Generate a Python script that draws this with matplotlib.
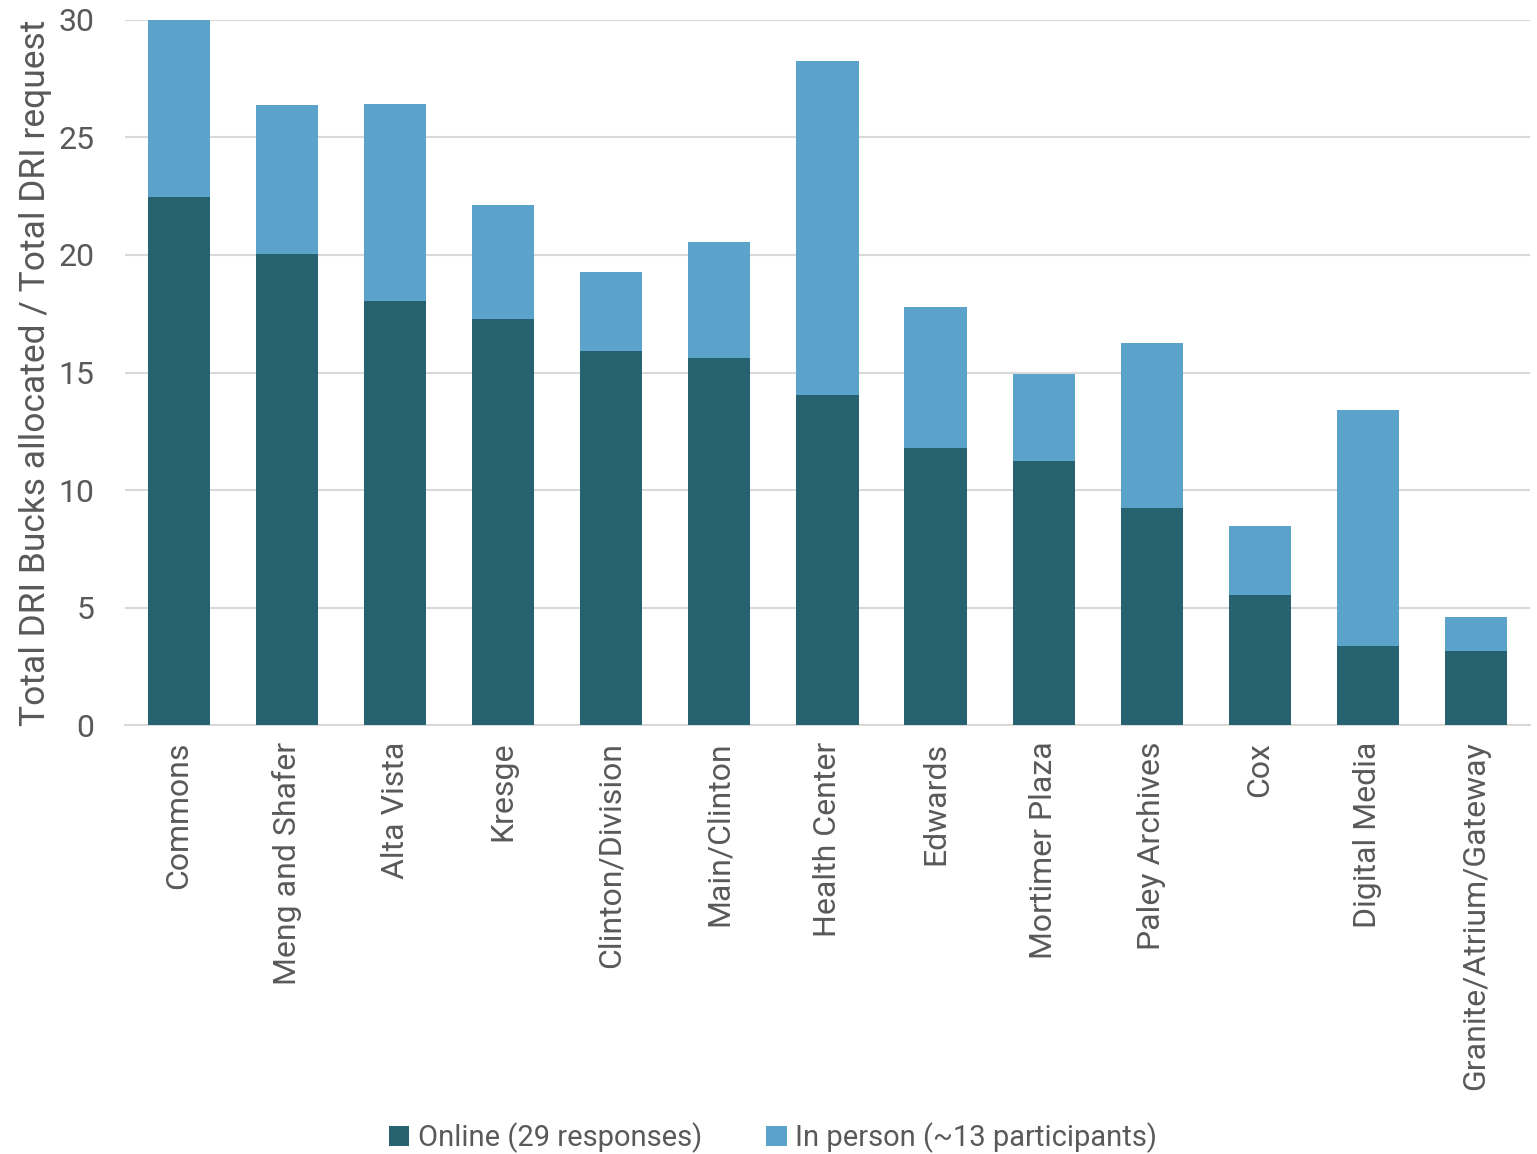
import matplotlib
matplotlib.use("Agg")
import matplotlib.pyplot as plt
import numpy as np

categories = ["Commons", "Meng and Shafer", "Alta Vista", "Kresge", "Clinton/Division",
              "Main/Clinton", "Health Center", "Edwards", "Mortimer Plaza", "Paley Archives",
              "Cox", "Digital Media", "Granite/Atrium/Gateway"]
online = [22.47, 20.04, 18.04, 17.28, 15.91, 15.62, 14.04, 11.79, 11.23, 9.23, 5.53, 3.36, 3.15]
in_person = [7.53, 6.34, 8.39, 4.85, 3.37, 4.93, 14.22, 6.00, 3.71, 7.03, 2.94, 10.04, 1.45]
yticks = [0, 5, 10, 15, 20, 25, 30]

plt.rcParams['font.family'] = ['Roboto', 'DejaVu Sans']

dark = "#276270"
light = "#5BA3CB"
txt = "#595959"

fig = plt.figure(figsize=(15.37, 11.54), dpi=100)
ax = fig.add_axes([0.0813, 0.3717, 0.9141, 0.611])

x = np.arange(len(categories))
w = 0.575
ax.bar(x, online, w, color=dark, label="Online (29 responses)", zorder=3)
ax.bar(x, in_person, w, bottom=online, color=light, label="In person (~13 participants)", zorder=3)

ax.set_xlim(-0.5, len(categories) - 0.5)
ax.set_ylim(0, 30)
ax.set_yticks(yticks)
ax.set_yticklabels([str(t) for t in yticks], fontsize=23, color=txt)
ax.set_xticks(x)
ax.set_xticklabels(categories, rotation=90, fontsize=23, color=txt)
ax.tick_params(axis='both', length=0)
ax.tick_params(axis='x', pad=12)
ax.tick_params(axis='y', pad=22)
ax.grid(axis='y', color="#D9D9D9", linewidth=1.5, zorder=0)
for s in ["top", "right", "left"]:
    ax.spines[s].set_visible(False)
ax.spines["bottom"].set_color("#D9D9D9")
ax.spines["bottom"].set_linewidth(1.5)

ax.set_ylabel("Total DRI Bucks allocated / Total DRI request", fontsize=25.5, color=txt)
ax.yaxis.set_label_coords(-0.052, 0.5)

fig.legend(loc="lower center", bbox_to_anchor=(0.503, -0.022), ncol=2, frameon=False,
           fontsize=21, labelcolor=txt, handlelength=0.7, handleheight=0.7,
           handletextpad=0.3, columnspacing=2.2)

fig.savefig("out.png", dpi=100)
